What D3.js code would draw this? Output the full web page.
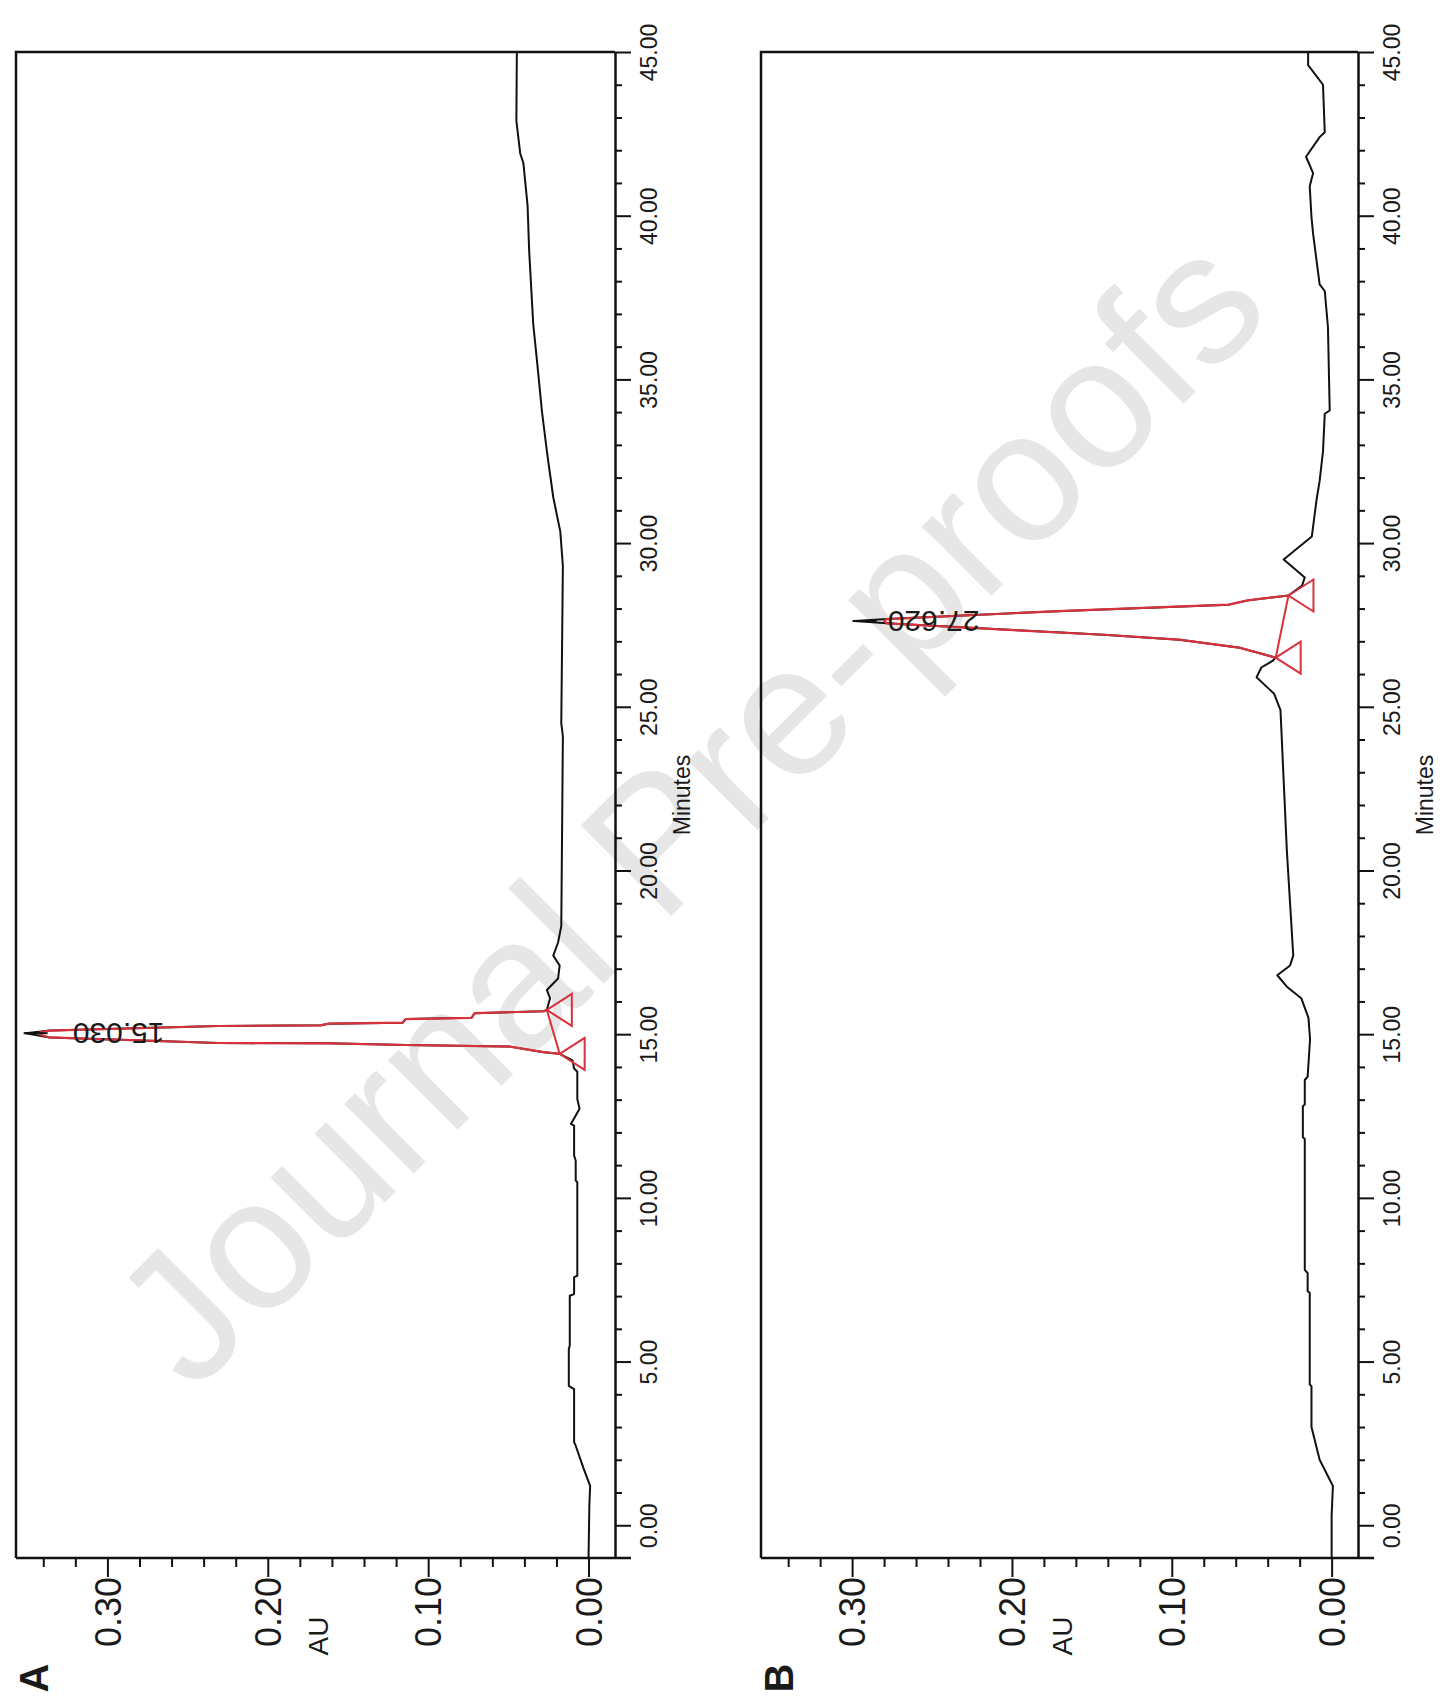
<!DOCTYPE html>
<html>
<head>
<meta charset="utf-8">
<script src="https://cdn.jsdelivr.net/npm/d3@7/dist/d3.min.js"></script>
<style>
  body { margin: 0; background: #fff; }
  svg { display: block; }
  text { font-family: "Liberation Sans", Arial, sans-serif; fill: #1a1a1a; }
</style>
</head>
<body>
<div id="chart"></div>
<script>
// Minutes axis (drawn vertically, the figure is rotated) and AU axis (drawn horizontally)
const minuteTicks = [0, 5, 10, 15, 20, 25, 30, 35, 40, 45];
const minuteMinor = [1,2,3,4,6,7,8,9,11,12,13,14,16,17,18,19,21,22,23,24,26,27,28,29,31,32,33,34,36,37,38,39,41,42,43,44];
const auTicks = [0.00, 0.10, 0.20, 0.30];
const auMinor = [0.02, 0.04, 0.06, 0.08, 0.12, 0.14, 0.16, 0.18, 0.22, 0.24, 0.26, 0.28, 0.32, 0.34];

// chromatogram A: [minutes, AU]
const traceA = [
  [-1.0, 0.000], [0.6, -0.0005], [1.2, -0.001], [1.72, 0.003], [2.43, 0.008], [2.54, 0.009],
  [4.16, 0.009], [4.26, 0.0123], [5.38, 0.0123], [5.49, 0.0117], [7.01, 0.0117], [7.06, 0.009],
  [7.58, 0.009], [7.62, 0.007], [10.48, 0.007], [10.53, 0.008], [11.14, 0.008], [11.29, 0.009],
  [12.21, 0.009], [12.26, 0.011], [12.72, 0.0056], [13.02, 0.007], [13.85, 0.007], [13.95, 0.009],
  [14.2, 0.010], [14.40, 0.018],
  [14.45, 0.028], [14.62, 0.049], [14.67, 0.114], [14.72, 0.162], [14.73, 0.231], [14.90, 0.336],
  [15.03, 0.351],
  [15.11, 0.336], [15.25, 0.231], [15.27, 0.167], [15.32, 0.162], [15.35, 0.116], [15.46, 0.114],
  [15.50, 0.073], [15.64, 0.071], [15.70, 0.028], [15.74, 0.026],
  [16.1, 0.024], [16.35, 0.026], [16.7, 0.019], [17.1, 0.018], [17.4, 0.022], [17.8, 0.019],
  [18.3, 0.017], [24.1, 0.016], [24.5, 0.017], [29.3, 0.016], [30.35, 0.0176], [31.4, 0.022],
  [32.7, 0.0257], [34.0, 0.029], [35.4, 0.0318], [36.7, 0.0345], [38.9, 0.037], [40.3, 0.038],
  [41.6, 0.0406], [41.9, 0.0426], [42.9, 0.045], [45.0, 0.0447]
];
// red integrated peak section of A
const peakA = [
  [14.40, 0.018], [14.45, 0.028], [14.62, 0.049], [14.67, 0.114], [14.72, 0.162], [14.73, 0.231],
  [14.90, 0.336], [14.99, 0.342], [15.06, 0.342], [15.11, 0.336], [15.25, 0.231], [15.27, 0.167],
  [15.32, 0.162], [15.35, 0.116], [15.46, 0.114], [15.50, 0.073], [15.64, 0.071], [15.70, 0.028],
  [15.74, 0.026]
];

// chromatogram B
const traceB = [
  [-1.0, 0.000], [0.3, 0.000], [1.2, -0.0008], [2.0, 0.0075], [3.0, 0.0126], [4.25, 0.0126],
  [4.3, 0.0137], [7.1, 0.0137], [7.15, 0.015], [7.7, 0.015], [7.8, 0.0168], [11.8, 0.0168],
  [11.85, 0.018], [12.8, 0.018], [12.85, 0.0168], [13.6, 0.0168], [13.7, 0.015], [14.85, 0.0135],
  [15.5, 0.0145], [16.1, 0.019], [16.45, 0.028], [16.8, 0.034], [17.1, 0.026], [17.4, 0.024],
  [19.0, 0.026], [20.6, 0.028], [22.75, 0.030], [24.9, 0.032], [25.4, 0.036], [25.9, 0.047],
  [26.2, 0.044], [26.4, 0.037], [26.5, 0.035],
  [26.8, 0.0572], [27.05, 0.0953], [27.2, 0.1428], [27.32, 0.1904], [27.55, 0.2783],
  [27.62, 0.2985],
  [27.68, 0.2783], [27.92, 0.1713], [28.12, 0.0643], [28.25, 0.0525], [28.40, 0.027],
  [28.7, 0.0185], [28.95, 0.0168], [29.5, 0.030], [30.2, 0.0124], [31.3, 0.0095],
  [31.9, 0.0075], [32.8, 0.0054], [33.95, 0.0043], [34.05, 0.0012], [36.6, 0.0023], [37.7, 0.0043],
  [37.9, 0.0075], [39.45, 0.0116], [39.95, 0.0126], [40.9, 0.0137], [41.3, 0.0116], [41.8, 0.016],
  [42.4, 0.0075], [42.55, 0.0043], [44.0, 0.0054], [44.6, 0.0147], [45.0, 0.0147]
];
const peakB = [
  [26.5, 0.035], [26.8, 0.0572], [27.05, 0.0953], [27.2, 0.1428], [27.32, 0.1904],
  [27.55, 0.2783], [27.62, 0.280], [27.68, 0.2783], [27.92, 0.1713], [28.12, 0.0643],
  [28.25, 0.0525], [28.40, 0.027]
];

const panels = [
  { letter: "A", left: 16, right: 615, trace: traceA, peak: peakA, rt: "15.030", rtTime: 15.03, rtAU: 0.351,
    labelAU: 0.293, start: [14.40, 0.018], end: [15.74, 0.026] },
  { letter: "B", left: 761, right: 1358, trace: traceB, peak: peakB, rt: "27.620", rtTime: 27.62, rtAU: 0.2985,
    labelAU: 0.249, start: [26.5, 0.035], end: [28.40, 0.027] }
];

const W = 1443, H = 1698;
const plotTop = 52, plotBottom = 1558;

const svg = d3.select("#chart").append("svg")
  .attr("width", W).attr("height", H);

// watermark
svg.append("text")
  .attr("transform", "translate(688,808) rotate(-45)")
  .attr("text-anchor", "middle")
  .attr("dominant-baseline", "central")
  .style("font-size", "186px")
  .style("fill", "#e6e6e6")
  .text("Journal Pre-proofs");

panels.forEach(p => {
  const y = d3.scaleLinear().domain([-1, 45]).range([plotBottom, plotTop]);
  const x = d3.scaleLinear().domain([-0.0165, 0.357]).range([p.right, p.left]);

  const g = svg.append("g");

  // frame (left + top)
  g.append("path")
    .attr("d", `M${p.right},${plotTop}H${p.left}V${plotBottom}`)
    .attr("fill", "none").attr("stroke", "#111").attr("stroke-width", 2.5);

  // minutes axis on the right
  const minorM = d3.axisRight(y).tickValues(minuteMinor).tickSize(7).tickFormat("");
  g.append("g").attr("transform", `translate(${p.right},0)`).call(minorM)
    .call(a => a.select(".domain").remove())
    .selectAll("line").attr("stroke", "#111").attr("stroke-width", 2);

  const majorM = d3.axisRight(y).tickValues(minuteTicks).tickSize(16).tickSizeOuter(0)
    .tickFormat(d3.format(".2f"));
  const am = g.append("g").attr("transform", `translate(${p.right},0)`).call(majorM);
  am.select(".domain").attr("stroke", "#111").attr("stroke-width", 2.5);
  am.selectAll("line").attr("stroke", "#111").attr("stroke-width", 2);
  am.selectAll("text")
    .attr("x", 0).attr("y", 0).attr("dy", "0.35em")
    .attr("transform", "translate(34,0) rotate(-90)")
    .attr("text-anchor", "middle")
    .style("font-size", "23px").style("fill", "#1a1a1a");

  g.append("text")
    .attr("transform", `translate(${p.right + 67},795) rotate(-90)`)
    .attr("text-anchor", "middle").attr("dy", "0.35em")
    .style("font-size", "23px")
    .text("Minutes");

  // AU axis on the bottom
  const minorA = d3.axisBottom(x).tickValues(auMinor).tickSize(9).tickFormat("");
  g.append("g").attr("transform", `translate(0,${plotBottom})`).call(minorA)
    .call(a => a.select(".domain").remove())
    .selectAll("line").attr("stroke", "#111").attr("stroke-width", 2);

  const majorA = d3.axisBottom(x).tickValues(auTicks).tickSize(19).tickSizeOuter(0)
    .tickFormat(d3.format(".2f"));
  const aa = g.append("g").attr("transform", `translate(0,${plotBottom})`).call(majorA);
  aa.select(".domain").attr("stroke", "#111").attr("stroke-width", 2.5)
    .attr("d", `M${p.left},0H${p.right + 16}`);
  aa.selectAll("line").attr("stroke", "#111").attr("stroke-width", 2);
  aa.selectAll("text")
    .attr("x", 0).attr("y", 0).attr("dy", "0.35em")
    .attr("transform", "translate(0,19) rotate(-90)")
    .attr("text-anchor", "end")
    .style("font-size", "36px").style("fill", "#1a1a1a");

  g.append("text")
    .attr("transform", `translate(${(p.left + p.right) / 2 + 3},1636) rotate(-90)`)
    .attr("text-anchor", "middle").attr("dy", "0.35em")
    .style("font-size", "28px")
    .text("AU");

  g.append("text")
    .attr("transform", `translate(${p.left + 18},1678) rotate(-90)`)
    .attr("text-anchor", "middle").attr("dy", "0.35em")
    .style("font-size", "40px").style("font-weight", "bold")
    .text(p.letter);

  // trace
  const line = d3.line().x(d => x(d[1])).y(d => y(d[0]));
  g.append("path").datum(p.trace)
    .attr("d", line)
    .attr("fill", "none").attr("stroke", "#111").attr("stroke-width", 2)
    .attr("stroke-linejoin", "round");

  // integrated peak in red
  g.append("path").datum(p.peak)
    .attr("d", line)
    .attr("fill", "none").attr("stroke", "#d8323c").attr("stroke-width", 2.2)
    .attr("stroke-linejoin", "round");

  // baseline between start and end markers
  g.append("path").datum([p.start, p.end])
    .attr("d", line)
    .attr("fill", "none").attr("stroke", "#d8323c").attr("stroke-width", 2);

  // start / end triangles
  [p.start, p.end].forEach(pt => {
    const px = x(pt[1]), py = y(pt[0]);
    g.append("path")
      .attr("d", `M${px},${py}L${px + 25},${py - 16}L${px + 25},${py + 16}Z`)
      .attr("fill", "none").attr("stroke", "#d8323c").attr("stroke-width", 2);
  });

  // retention time tick + label
  g.append("line")
    .attr("x1", x(p.rtAU) - 2).attr("x2", x(p.rtAU) + 22)
    .attr("y1", y(p.rtTime)).attr("y2", y(p.rtTime))
    .attr("stroke", "#111").attr("stroke-width", 2);
  g.append("text")
    .attr("transform", `translate(${x(p.labelAU)},${y(p.rtTime)}) rotate(180)`)
    .attr("text-anchor", "middle").attr("dy", "0.35em")
    .style("font-size", "30px")
    .text(p.rt);
});
</script>
</body>
</html>
